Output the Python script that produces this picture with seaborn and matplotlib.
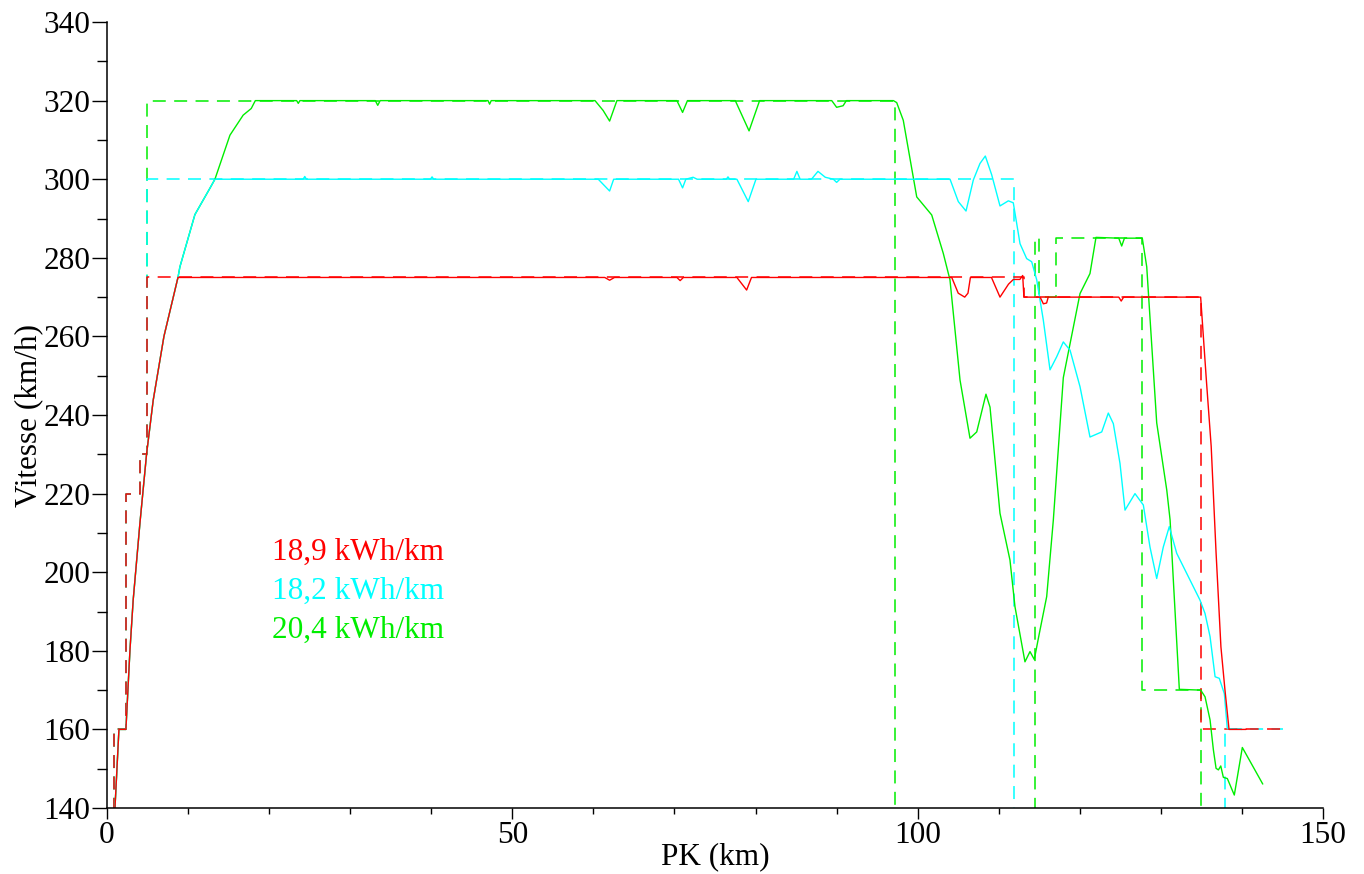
import numpy as np
import pandas as pd
import matplotlib
matplotlib.use("Agg")
import matplotlib.pyplot as plt
from matplotlib.ticker import MultipleLocator
import seaborn as sns

# speed profiles (PK in km, speed in km/h)
red_pk = [0.99, 1.48, 2.34, 2.84, 3.24, 4.07, 4.90, 5.71, 7.03, 8.76,
          61.4, 62.0, 62.6, 70.3, 70.7, 71.1, 77.7, 78.9, 79.5,
          104.2, 105.0, 105.8, 106.2, 106.5, 109.1, 110.15, 111.2, 111.8,
          112.6, 112.95, 113.1, 115.1, 115.5, 115.9, 116.1, 124.8, 125.1,
          125.4, 134.9, 135.6, 136.2, 136.8, 137.4, 137.9, 138.4, 140.5]
red_v = [140, 160, 160, 180.2, 193, 212.5, 230.3, 243.8, 260, 275,
         275, 274.3, 275, 275, 274.2, 275, 275, 271.8, 275,
         275, 271, 270, 271, 275, 275, 270, 273.3, 274.5,
         274.5, 275.5, 270, 270, 268.3, 268.5, 270, 270, 269,
         270, 270, 249, 232, 205, 181, 170, 160, 160]

cyan_pk = [0.99, 1.48, 2.34, 2.84, 3.24, 4.07, 4.90, 5.71, 7.03, 8.76,
           9.0, 10.85, 12.7, 13.32, 24.2, 24.4, 24.6, 39.9, 40.1, 40.3,
           60.6, 62.0, 62.5, 70.5, 71.0, 71.4, 72.3, 72.8, 76.4, 76.6, 76.8,
           77.7, 79.1, 80.05, 84.7, 85.1, 85.5, 86.9, 87.7, 88.6, 89.6,
           90.0, 90.4, 103.99, 105.01, 105.96, 106.86, 107.68, 108.34,
           109.13, 110.15, 111.18, 111.79, 112.62, 113.44, 114.06, 114.68,
           115.49, 116.32, 117.14, 117.96, 118.79, 120.02, 121.25, 122.70,
           123.51, 124.13, 124.95, 125.57, 126.80, 127.83, 128.65, 129.48,
           130.29, 131.03, 131.95, 134.82, 135.44, 136.06, 136.68, 137.20,
           137.82, 138.19, 140.0]
cyan_v = [140, 160, 160, 180.2, 193, 212.5, 230.3, 243.8, 260, 275,
          277.7, 291, 297.7, 300, 300, 300.7, 300, 300, 300.6, 300,
          300, 297, 300, 300, 297.8, 300, 300.5, 300, 300, 300.6, 300,
          300, 294.3, 300, 300, 302, 300, 300, 302, 300.5, 300,
          299.2, 300, 300, 294.3, 291.9, 299.8, 304, 305.9,
          301.1, 293.2, 294.5, 294, 283.6, 279.8, 279, 274.4,
          264.2, 251.5, 254.8, 258.6, 256.5, 247.2, 234.4, 235.7,
          240.5, 237.8, 227.7, 215.8, 220, 217.1, 206.4, 198.4,
          206.4, 211.6, 204.8, 192.9, 189.5, 183.6, 173.4, 173,
          169.1, 160.2, 160]

green_pk = [0.99, 1.48, 2.34, 2.84, 3.24, 4.07, 4.90, 5.71, 7.03, 8.76,
            9.0, 10.85, 12.7, 13.32, 15.17, 16.8, 17.8, 18.3,
            23.4, 23.6, 23.8, 33.1, 33.4, 33.7, 47.0, 47.2, 47.4,
            60.2, 61.2, 62.0, 62.9, 70.3, 71.0, 71.6, 77.5, 79.2, 80.5,
            89.4, 90.0, 90.8, 91.2, 97.0, 97.41, 98.22, 99.88, 101.73,
            103.16, 103.98, 105.22, 106.45, 107.28, 108.42, 108.92, 110.15,
            111.38, 112.0, 113.23, 113.85, 114.38, 115.0, 115.91, 116.73,
            117.96, 120.02, 121.25, 121.99, 124.8, 125.16, 125.5, 127.70,
            128.25, 129.48, 130.72, 131.13, 131.53, 132.27, 134.91, 135.44,
            136.06, 136.47, 136.80, 137.09, 137.38, 137.70, 138.19, 139.05,
            140.04, 142.56]
green_v = [140, 160, 160, 180.2, 193, 212.5, 230.3, 243.8, 260, 275,
           277.7, 291, 297.7, 300, 311.2, 316.3, 318, 320,
           320, 319.3, 320, 320, 318.8, 320, 320, 319.1, 320,
           320, 317.5, 314.8, 320, 320, 317, 320, 320, 312.3, 320,
           320, 318.3, 318.7, 320, 320, 319.5, 315, 295.5, 290.9,
           281.1, 274.4, 248.9, 234.1, 235.7, 245.3, 242, 215,
           203.1, 191.2, 177.2, 179.8, 177.8, 184.4, 193.8, 213.3,
           249.5, 270.9, 276, 285.2, 285, 283, 285, 285,
           277.7, 238, 220.9, 213.3, 198, 170.2, 170, 168.3,
           162.4, 154.8, 150.1, 149.7, 150.7, 147.8, 147.5, 143.3,
           155.4, 146.1]

# speed limits (step profiles, value holds until next PK)
red_lim_pk = [0.0, 0.9, 2.34, 4.07, 4.9, 113.1, 134.9, 145.0]
red_lim_v = [0, 160, 220, 230, 275, 270, 160, 160]
cyan_lim_pk = [0.0, 0.9, 2.34, 4.07, 4.9, 111.9, 137.9, 145.0]
cyan_lim_v = [0, 160, 220, 230, 300, 0, 160, 160]
green_lim_pk = [0.0, 0.9, 2.34, 4.07, 4.9, 97.2, 114.5, 115.0, 117.0, 127.7, 134.9]
green_lim_v = [0, 160, 220, 230, 320, 0, 285, 270, 285, 170, 0]

labels = ["18,9 kWh/km", "18,2 kWh/km", "20,4 kWh/km"]
colors = ["#ff0000", "#00ffff", "#00ee00"]

sns.set_style("ticks")
plt.rcParams['font.family'] = ['Liberation Serif', 'DejaVu Serif']
plt.rcParams['text.color'] = 'black'
plt.rcParams['axes.labelcolor'] = 'black'
plt.rcParams['xtick.color'] = 'black'
plt.rcParams['ytick.color'] = 'black'

fig = plt.figure(figsize=(13.64, 8.74), dpi=100)
ax = fig.add_axes([0.0784, 0.0755, 0.8916, 0.8993])

dash = (0, (8.5, 5.5))
# limits: green first, red on top
limits = [(green_lim_pk, green_lim_v, colors[2]),
          (cyan_lim_pk, cyan_lim_v, colors[1]),
          (red_lim_pk, red_lim_v, colors[0])]
for pk, v, c in limits:
    df = pd.DataFrame({"pk": pk, "v": v})
    sns.lineplot(data=df, x="pk", y="v", ax=ax, color=c, lw=1.1, linestyle=dash,
                 drawstyle="steps-post", estimator=None, sort=False, legend=False)

curves = [(green_pk, green_v, colors[2]), (cyan_pk, cyan_v, colors[1]),
          (red_pk, red_v, colors[0])]
for pk, v, c in curves:
    df = pd.DataFrame({"pk": pk, "v": v})
    sns.lineplot(data=df, x="pk", y="v", ax=ax, color=c, lw=1.0,
                 estimator=None, sort=False, legend=False)

for i, (lab, c) in enumerate(zip(labels, colors)):
    ax.text(20.3, 205.1 - 10 * i, lab, color=c, fontsize=22.5, va="center", ha="left")

ax.set_xlim(0, 150)
ax.set_ylim(140, 340)
ax.xaxis.set_major_locator(MultipleLocator(50))
ax.xaxis.set_minor_locator(MultipleLocator(10))
ax.yaxis.set_major_locator(MultipleLocator(20))
ax.yaxis.set_minor_locator(MultipleLocator(10))
ax.tick_params(axis="y", which="major", direction="out", length=11, width=1.0, pad=1,
               labelsize=22.5, colors="black")
ax.tick_params(axis="y", which="minor", direction="out", length=7, width=1.0, colors="black")
ax.tick_params(axis="x", which="major", direction="out", length=8, width=1.0, pad=1,
               labelsize=22.5, colors="black")
ax.tick_params(axis="x", which="minor", direction="out", length=4.5, width=1.0, colors="black")
for s in ["top", "right"]:
    ax.spines[s].set_visible(False)
for s in ["left", "bottom"]:
    ax.spines[s].set_linewidth(1.1)
    ax.spines[s].set_color("black")

ax.set_xlabel("PK (km)", fontsize=22.5, labelpad=-5, color="black")
ax.set_ylabel("Vitesse (km/h)", fontsize=22.5, labelpad=0, color="black")

fig.savefig("out.png", dpi=100)
